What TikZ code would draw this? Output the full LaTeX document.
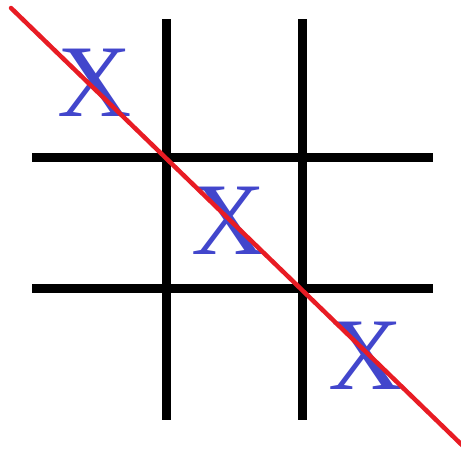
\documentclass[tikz,border=0pt]{standalone}
\usepackage{fontspec}
\setmainfont{Liberation Serif}
\usepackage{tikz}
\usetikzlibrary{positioning,calc}
\definecolor{markblue}{RGB}{66, 70, 204}
\definecolor{winred}{RGB}{232, 28, 36}

\begin{document}
\begin{tikzpicture}[x=1pt, y=-1pt,
    gridline/.style={line width=9pt, black},
    xmark/.style={text=markblue, font=\fontsize{103}{103}\selectfont, inner sep=0pt, anchor=center},
    winline/.style={line width=4.5pt, winred, line cap=round}
]
\useasboundingbox (0,0) rectangle (461,448);
% grid
\draw[gridline] (166,19) -- (166,420);
\draw[gridline] (302,19) -- (302,420);
\draw[gridline] (32,157) -- (433,157);
\draw[gridline] (32,288) -- (433,288);
% marks
\node[xmark] (xa) at (95,83) {X};
\node[xmark] (xb) at (229,221) {X};
\node[xmark] (xc) at (366,356) {X};
% winning line
\coordinate (start) at (11,8);
\coordinate (stop) at (463,446);
\draw[winline] (start) -- (stop);
\end{tikzpicture}
\end{document}
